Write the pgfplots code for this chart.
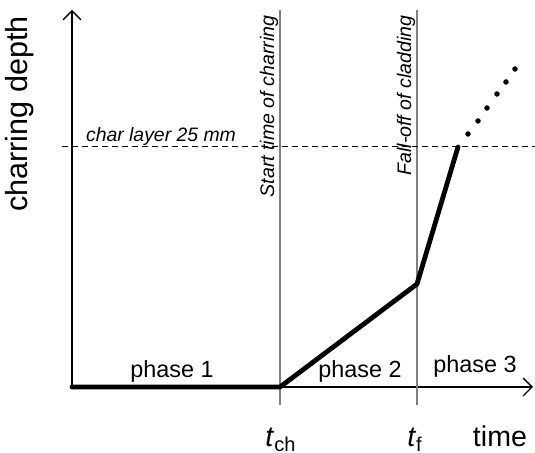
\documentclass[border=0pt]{standalone}
\usepackage{pgfplots}
\pgfplotsset{compat=1.18}
\usepackage{fontspec}
\setmainfont{Liberation Sans}
\usetikzlibrary{arrows.meta}

% phase boundaries (picture units, origin at axis corner)
\def\tch{208}
\def\tf{345}

\begin{document}
\begin{tikzpicture}
\begin{axis}[
    x=0.5pt, y=0.5pt,
    xmin=0, xmax=461, ymin=0, ymax=377,
    axis lines=left,
    axis line style={line width=0.65pt, -{Straight Barb[length=4.5pt,width=9pt,line width=0.65pt]}},
    ticks=none,
    clip=false,
]
  % phase boundaries
  \addplot[gray, line width=0.7pt] coordinates {(\tch,-18) (\tch,377)};
  \addplot[gray, line width=0.7pt] coordinates {(\tf,-18) (\tf,377)};
  % char layer limit
  \addplot[black, line width=0.5pt, dash pattern=on 3pt off 2pt] coordinates {(-10,240) (463,240)};
  % charring depth
  \addplot[black, line width=2.4pt, line join=round, line cap=round] coordinates {(0,0) (208,0) (345,103) (386,240)};
  \addplot[only marks, mark=*, mark size=1.15pt, black] coordinates {
    (396,253) (406,266) (415,279) (425,293) (434,305) (443,318)};

  \node[rotate=90, font=\fontsize{15.3}{18}\selectfont] at (axis cs:-52,273) {charring depth};
  \node[anchor=base, font=\fontsize{9.7}{11}\selectfont\itshape, inner sep=0pt] at (axis cs:89,245) {char layer 25 mm};
  \node[rotate=90, anchor=base east, inner sep=0pt, font=\fontsize{9.8}{11}\selectfont\itshape] at (axis cs:202,372) {Start time of charring};
  \node[rotate=90, anchor=base east, inner sep=0pt, font=\fontsize{9.8}{11}\selectfont\itshape] at (axis cs:339,372) {Fall-off of cladding};
  \node[anchor=base, inner sep=0pt, font=\fontsize{11.7}{14}\selectfont] at (axis cs:100,9) {phase 1};
  \node[anchor=base, inner sep=0pt, font=\fontsize{11.7}{14}\selectfont] at (axis cs:288,9) {phase 2};
  \node[anchor=base, inner sep=0pt, font=\fontsize{11.7}{14}\selectfont] at (axis cs:403,14) {phase 3};
  \node[anchor=base, inner sep=0pt, font=\fontsize{14.3}{17}\selectfont] at (axis cs:209,-60) {\textit{t}\textsubscript{ch}};
  \node[anchor=base, inner sep=0pt, font=\fontsize{14.3}{17}\selectfont] at (axis cs:343,-60) {\textit{t}\textsubscript{f}};
  \node[anchor=base, inner sep=0pt, font=\fontsize{14.3}{17}\selectfont] at (axis cs:428,-60) {time};

  \coordinate (bl) at (axis cs:-72,-66);
  \coordinate (tr) at (axis cs:463,387);
\end{axis}
\pgfresetboundingbox
\path (bl) rectangle (tr);
\end{tikzpicture}
\end{document}
